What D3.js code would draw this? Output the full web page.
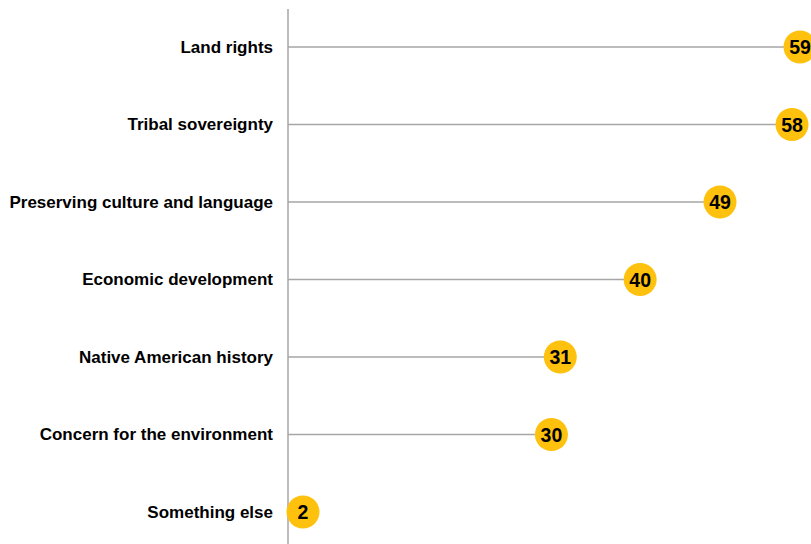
<!DOCTYPE html>
<html>
<head>
<meta charset="utf-8">
<script src="https://cdn.jsdelivr.net/npm/d3@7"></script>
<style>
  body { margin: 0; background: #fff; }
  svg { display: block; font-family: "Liberation Sans", Arial, sans-serif; }
</style>
</head>
<body>
<script>
const categories = ['Land rights', 'Tribal sovereignty', 'Preserving culture and language',
    'Economic development', 'Native American history', 'Concern for the environment', 'Something else'];
const values = [59, 58, 49, 40, 31, 30, 2];

const width = 811;
const height = 544;

var svg = d3.select('body')
    .append('svg')
    .attr('width', width)
    .attr('height', height);

// the picture squeezes the top end a little, so a piecewise scale
var x_scale = d3.scaleLinear()
    .domain([2, 49, 59])
    .range([303, 720, 800]);

var y_scale = d3.scalePoint()
    .domain(categories)
    .range([8.25, 550.75])
    .padding(0.5);

var data = categories.map(function (c, i) {
    return {category: c, value: values[i]};
});

// axis line
svg.append('line')
    .attr('x1', 288).attr('x2', 288)
    .attr('y1', 9).attr('y2', height)
    .attr('stroke', '#a6a6a6')
    .attr('stroke-width', 1.5);

// category labels
svg.selectAll('.cat')
    .data(data)
    .enter()
    .append('text')
    .attr('class', 'cat')
    .attr('x', 273)
    .attr('y', function (d) { return y_scale(d.category); })
    .attr('dy', '0.35em')
    .attr('text-anchor', 'end')
    .attr('font-size', '17px')
    .attr('font-weight', 'bold')
    .attr('fill', '#000')
    .text(function (d) { return d.category; });

// stems
svg.selectAll('.stem')
    .data(data)
    .enter()
    .append('line')
    .attr('class', 'stem')
    .attr('x1', 288)
    .attr('x2', function (d) { return x_scale(d.value); })
    .attr('y1', function (d) { return y_scale(d.category); })
    .attr('y2', function (d) { return y_scale(d.category); })
    .attr('stroke', '#a6a6a6')
    .attr('stroke-width', 1.5);

// dots
svg.selectAll('circle')
    .data(data)
    .enter()
    .append('circle')
    .attr('cx', function (d) { return x_scale(d.value); })
    .attr('cy', function (d) { return y_scale(d.category); })
    .attr('r', 16.5)
    .attr('fill', '#fec10d');

svg.selectAll('.val')
    .data(data)
    .enter()
    .append('text')
    .attr('class', 'val')
    .attr('x', function (d) { return x_scale(d.value); })
    .attr('y', function (d) { return y_scale(d.category); })
    .attr('dy', '0.36em')
    .attr('text-anchor', 'middle')
    .attr('font-size', '19.5px')
    .attr('font-weight', 'bold')
    .attr('fill', '#000')
    .text(function (d) { return d.value; });
</script>
</body>
</html>
